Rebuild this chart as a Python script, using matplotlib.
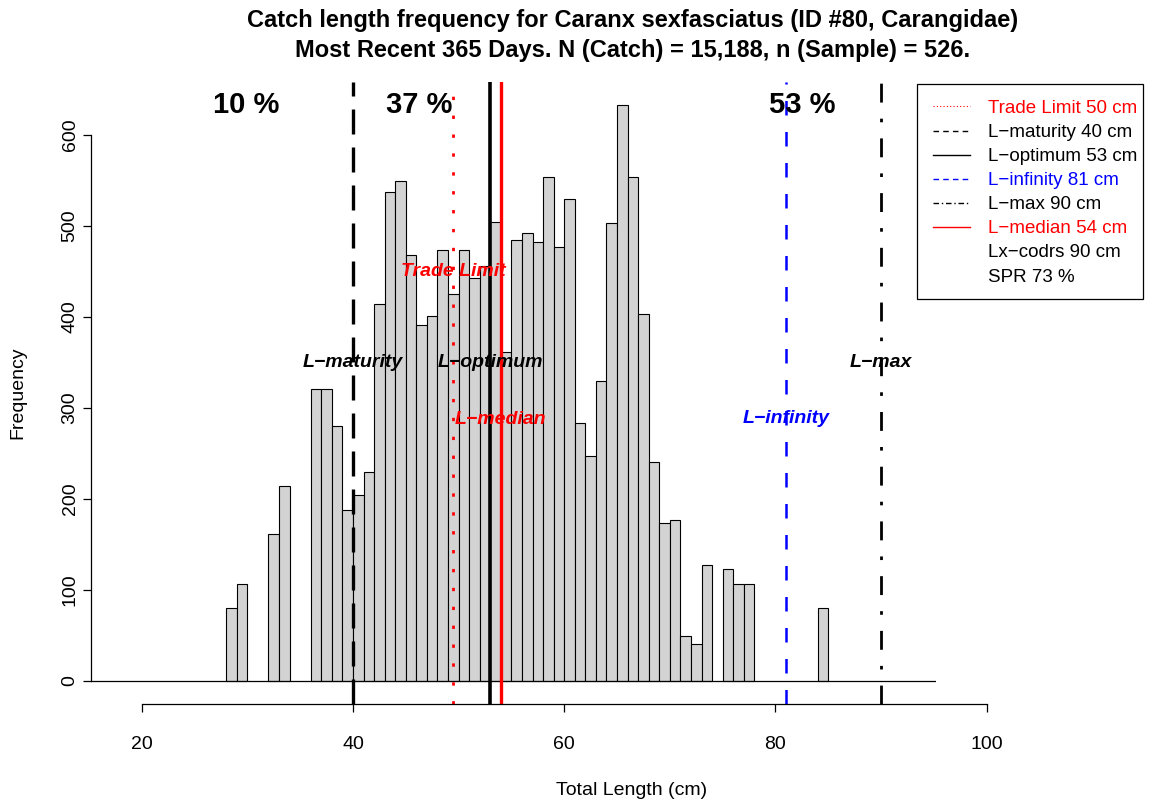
import numpy as np
import matplotlib
matplotlib.use("Agg")
import matplotlib.pyplot as plt
from matplotlib.lines import Line2D
from matplotlib.patches import Rectangle

plt.rcParams["font.family"] = ["Liberation Sans", "DejaVu Sans"]

# Histogram data (1 cm bins, left edges)
bin_left = list(range(28, 85))
freq = [80, 107, 0, 0, 161, 214, 0, 0, 321, 321, 280, 188, 204, 230, 414, 537,
        549, 468, 391, 401, 474, 425, 474, 443, 456, 504, 362, 485, 492, 483,
        554, 477, 530, 284, 247, 330, 503, 633, 554, 403, 241, 174, 177, 49,
        41, 128, 0, 123, 107, 107, 0, 0, 0, 0, 0, 0, 80]

# Reference lengths
trade_limit = 49.5
l_maturity = 40
l_optimum = 53
l_median = 54
l_infinity = 81
l_max = 90

pct_labels = ["10 %", "37 %", "53 %"]
pct_x = [29.9, 46.3, 82.5]

legend_labels = ["Trade Limit 50 cm", "L\u2212maturity 40 cm", "L\u2212optimum 53 cm",
                 "L\u2212infinity 81 cm", "L\u2212max 90 cm", "L\u2212median 54 cm",
                 "Lx\u2212codrs 90 cm", "SPR 73 %"]
legend_colors = ["red", "black", "black", "blue", "black", "red", "black", "black"]

W, H = 1163, 805
fig = plt.figure(figsize=(W / 100, H / 100), dpi=100)

# main plot region in pixels: x 91..936, y 82..704
ax = fig.add_axes([91 / W, 1 - 704 / H, 845 / W, 622 / H])
ax.set_xlim(15.2, 95.2)
ax.set_ylim(-25.3, 658.3)

x = np.array(bin_left)
y = np.array(freq)
keep = y > 0
ax.bar(x[keep], y[keep], width=1, align="edge", color="#d3d3d3",
       edgecolor="black", linewidth=0.8, zorder=2)
ax.axhline(0, color="black", lw=0.9, zorder=3)

# reference lines
ax.axvline(trade_limit, color="red", lw=2.0, linestyle=(0, (1.2, 5.6)), zorder=4)
ax.axvline(l_maturity, color="black", lw=2.4, linestyle=(0, (7.5, 3.9)), zorder=4)
ax.axvline(l_optimum, color="black", lw=2.6, zorder=4)
ax.axvline(l_median, color="red", lw=2.4, zorder=4)
ax.axvline(l_infinity, color="blue", lw=1.8, linestyle=(0, (5.8, 6.6)), zorder=4)
ax.axvline(l_max, color="black", lw=2.0, linestyle=(0, (6.8, 5.8, 1.3, 5.8)), zorder=4)

# percentages
for lab, px in zip(pct_labels, pct_x):
    ax.text(px, max(freq), lab, ha="center", va="center", fontsize=21,
            fontweight="bold", zorder=5)

lab_kw = dict(ha="center", va="center", fontsize=14, fontweight="bold",
              fontstyle="italic", zorder=5)
ax.text(trade_limit, 450, "Trade Limit", color="red", **lab_kw)
ax.text(l_maturity, 350, "L\u2212maturity", color="black", **lab_kw)
ax.text(l_optimum, 350, "L\u2212optimum", color="black", **lab_kw)
ax.text(l_median, 287, "L\u2212median", color="red", **lab_kw)
ax.text(l_infinity, 289, "L\u2212infinity", color="blue", **lab_kw)
ax.text(l_max, 350, "L\u2212max", color="black", **lab_kw)

# y axis (R style)
for s in ["top", "right", "bottom"]:
    ax.spines[s].set_visible(False)
ax.spines["left"].set_bounds(0, 600)
ax.spines["left"].set_linewidth(0.9)
ax.set_yticks(range(0, 601, 100))
ax.set_yticklabels([str(v) for v in range(0, 601, 100)], rotation=90,
                   va="center", fontsize=14)
ax.tick_params(axis="y", length=6, width=0.9, pad=3)
ax.set_xticks([])

# x axis drawn on a wider strip so that 100 can be shown
ax_x = fig.add_axes([91 / W, 1 - 704 / H, 909 / W, 0.001])
ax_x.set_xlim(15.2, 15.2 + 909 / 10.5625)
ax_x.patch.set_visible(False)
for s in ["top", "right", "left"]:
    ax_x.spines[s].set_visible(False)
ax_x.spines["bottom"].set_bounds(20, 100)
ax_x.spines["bottom"].set_linewidth(0.9)
ax_x.set_yticks([])
ax_x.set_xticks(range(20, 101, 20))
ax_x.set_xticklabels([str(v) for v in range(20, 101, 20)], fontsize=14)
ax_x.tick_params(axis="x", length=6, width=0.9, pad=17)

fig.text(632 / W, 1 - 790 / H, "Total Length (cm)", ha="center", va="center", fontsize=14)
fig.text(18 / W, 1 - 393 / H, "Frequency", ha="center", va="center",
         rotation=90, fontsize=14)

fig.text(633 / W, 1 - 20 / H,
         "Catch length frequency for Caranx sexfasciatus (ID #80, Carangidae)",
         ha="center", va="center", fontsize=17, fontweight="bold")
fig.text(633 / W, 1 - 50 / H,
         "Most Recent 365 Days. N (Catch) = 15,188, n (Sample) = 526.",
         ha="center", va="center", fontsize=17, fontweight="bold")

handles = [
    Line2D([], [], color="red", lw=0.8, linestyle=(0, (1, 2))),
    Line2D([], [], color="black", lw=1.0, linestyle=(0, (4, 3))),
    Line2D([], [], color="black", lw=1.0),
    Line2D([], [], color="blue", lw=1.0, linestyle=(0, (4, 3))),
    Line2D([], [], color="black", lw=1.0, linestyle=(0, (4, 2, 1, 2))),
    Line2D([], [], color="red", lw=1.0),
    Line2D([], [], color="none"),
    Line2D([], [], color="none"),
]
leg = ax.legend(handles, legend_labels, loc="upper left",
                bbox_to_anchor=(917 / W, 1 - 84 / H), bbox_transform=fig.transFigure,
                fontsize=13.5, labelcolor=legend_colors, frameon=False,
                borderaxespad=0, borderpad=0.85,
                handlelength=2.0, handletextpad=0.95, labelspacing=0.37)
leg.set_zorder(10)

# legend frame, R style (narrow right margin)
ax.add_patch(Rectangle((917 / W, 1 - 299 / H), (1143 - 917) / W, (299 - 84) / H,
                       transform=fig.transFigure, facecolor="white", clip_on=False,
                       edgecolor="black", linewidth=0.9, zorder=9))

fig.savefig("out.png", dpi=100, facecolor="white")
